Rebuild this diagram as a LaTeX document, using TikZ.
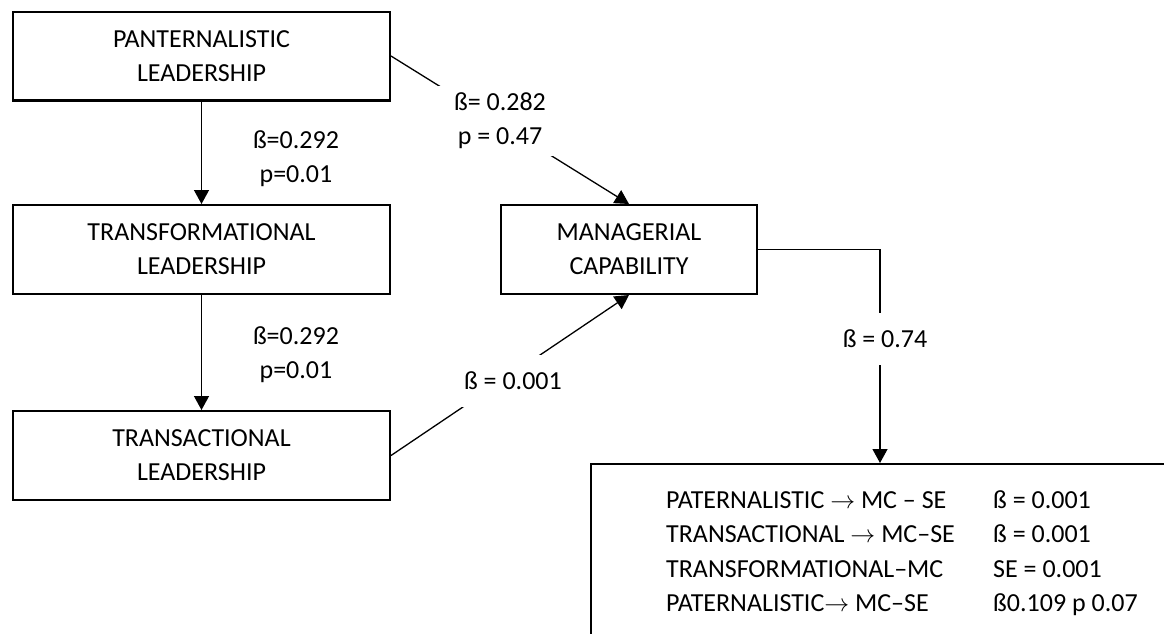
\documentclass[tikz,border=0pt]{standalone}
\usepackage{fontspec}
\setmainfont{Carlito}
\usetikzlibrary{arrows.meta}
\begin{document}
\begin{tikzpicture}[x=1pt,y=-1pt,
  font=\fontsize{26}{34}\selectfont,
  box/.style={draw, line width=2.4pt, fill=white, inner sep=0pt, minimum height=88.6pt, align=center},
  conn/.style={line width=1.3pt, -{Triangle[length=14pt,width=15pt]}},
  lbl/.style={fill=white, inner xsep=3pt, inner ysep=17pt},
  lbltwo/.style={align=center, inner sep=0pt},
  row/.style={anchor=base west, inner sep=0pt}]
\useasboundingbox (0,0) rectangle (1164,633);
\clip (0,0) rectangle (1164,633);
% boxes
\node[box, minimum width=376.6pt] (pat) at (201.5,56) {PANTERNALISTIC\\LEADERSHIP};
\node[box, minimum width=376.6pt] (tf) at (201.5,249.5) {TRANSFORMATIONAL\\LEADERSHIP};
\node[box, minimum width=376.6pt] (tr) at (201.5,455.5) {TRANSACTIONAL\\LEADERSHIP};
\node[box, minimum width=255.6pt] (mc) at (629,249.5) {MANAGERIAL\\CAPABILITY};
\node[box, minimum width=577.6pt, minimum height=220pt, anchor=north west] (res) at (590,463) {};
% connectors
\draw[conn] (pat.south) -- (tf.north);
\draw[conn] (tf.south) -- (tr.north);
\draw[conn] (pat.east) -- (mc.north);
\draw[conn] (tr.east) -- (mc.south);
\draw[conn] (mc.east) -| (res.north);
% labels
\node[lbltwo] (l1) at (296,159) {ß=0.292\\p=0.01};
\node[lbltwo] (l2) at (296,355) {ß=0.292\\p=0.01};
\node[lbltwo, fill=white, inner xsep=20pt, inner ysep=7pt] (l3) at (500,121) {ß= 0.282\\p = 0.47};
\node[lbl] (l4) at (513,381) {ß = 0.001};
\node[lbl] (l5) at (885,339) {ß = 0.74};
% result rows
\node[row] (r1a) at (666,508) {PATERNALISTIC $\rightarrow$ MC – SE};
\node[row] (r2a) at (666,542.5) {TRANSACTIONAL $\rightarrow$ MC–SE};
\node[row] (r3a) at (666,577) {TRANSFORMATIONAL–MC};
\node[row] (r4a) at (666,611) {PATERNALISTIC$\rightarrow$ MC–SE};
\node[row] (r1b) at (993,508) {ß = 0.001};
\node[row] (r2b) at (993,542.5) {ß = 0.001};
\node[row] (r3b) at (993,577) {SE = 0.001};
\node[row] (r4b) at (993,611) {ß0.109 p 0.07};
\end{tikzpicture}
\end{document}
